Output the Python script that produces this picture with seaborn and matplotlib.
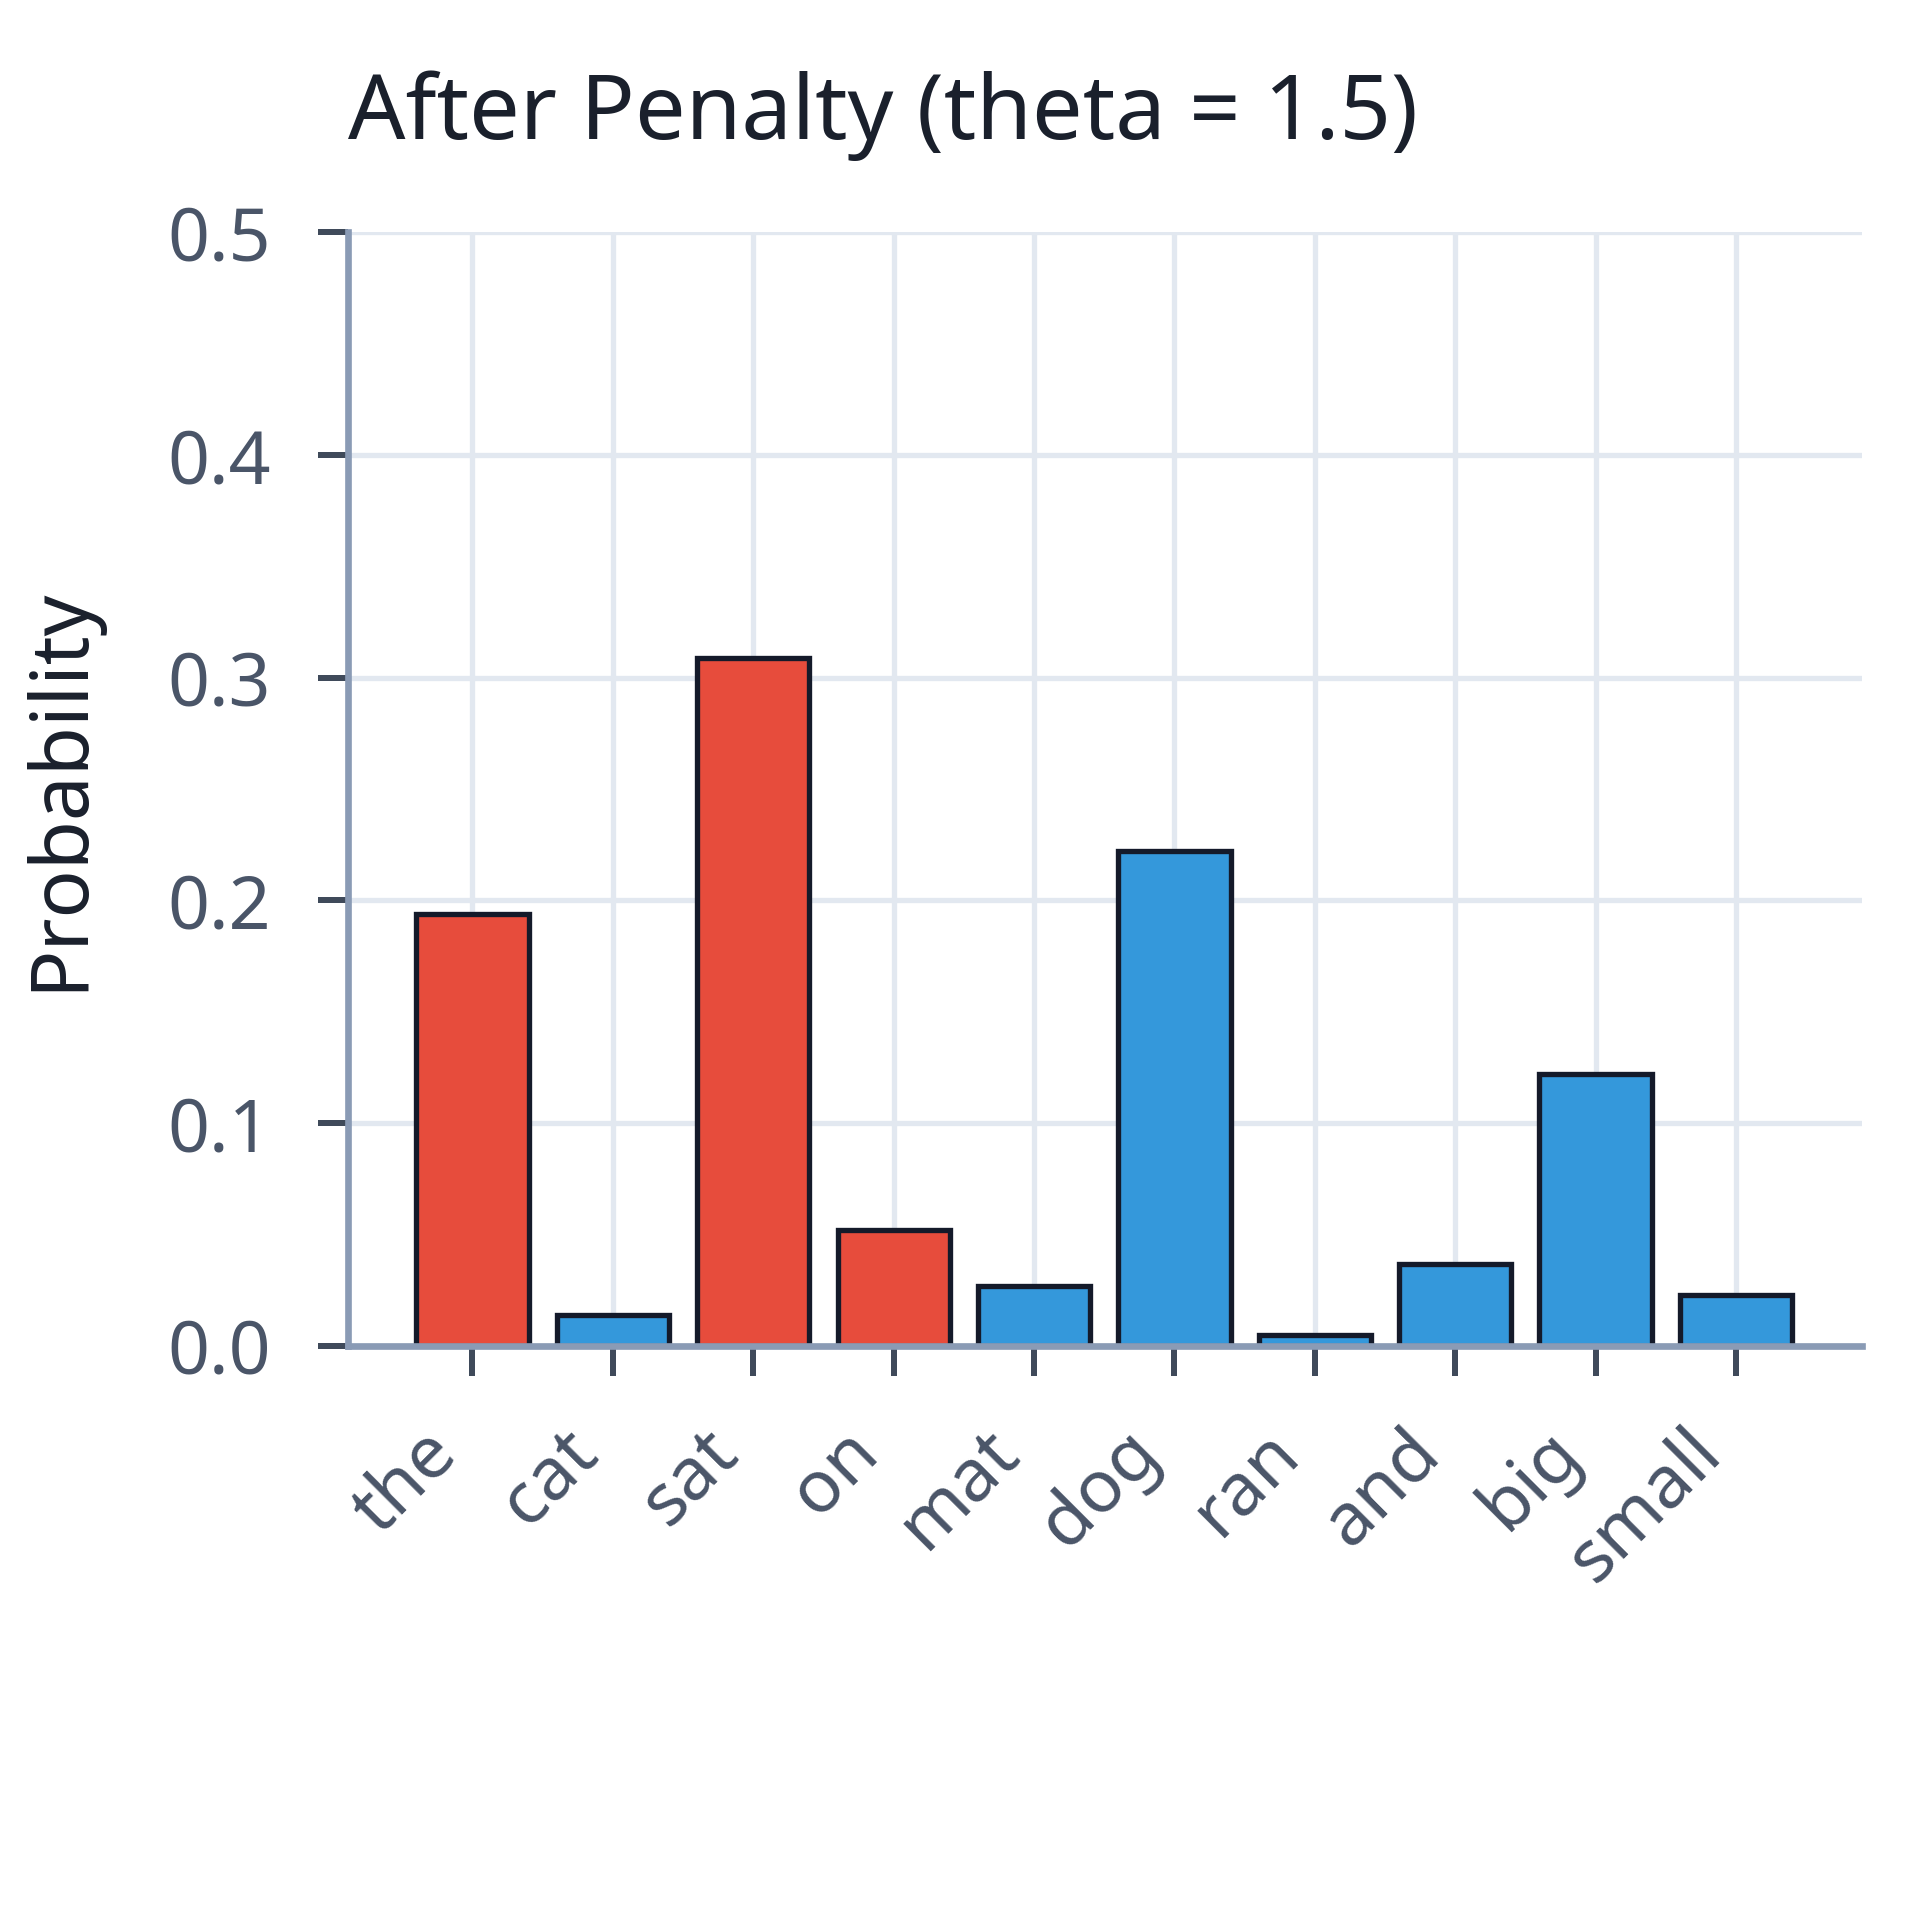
import matplotlib
matplotlib.use("Agg")
import matplotlib.pyplot as plt
import seaborn as sns
import pandas as pd

tokens = ["the", "cat", "sat", "on", "mat", "dog", "ran", "and", "big", "small"]
probs = [0.194, 0.014, 0.309, 0.052, 0.027, 0.222, 0.005, 0.037, 0.122, 0.023]
penalized = [True, False, True, True, False, False, False, False, False, False]

df = pd.DataFrame({"token": tokens, "prob": probs,
                   "group": ["pen" if p else "ok" for p in penalized]})

sns.set_theme(style="whitegrid")
plt.rcParams['font.family'] = ['Noto Sans', 'DejaVu Sans']

fig = plt.figure(figsize=(8, 8), dpi=240)
ax = fig.add_axes([0.181, 0.299, 0.789, 0.580])

sns.barplot(data=df, x="token", y="prob", hue="group", dodge=False,
            palette={"pen": "#e74c3c", "ok": "#3498db"}, width=0.8, saturation=1,
            edgecolor="#141a2a", linewidth=1.6, legend=False, ax=ax)

ax.set_xlim(-0.89, 9.9)
ax.set_ylim(0, 0.5)
ax.set_yticks([0.0, 0.1, 0.2, 0.3, 0.4, 0.5])
ax.set_yticklabels(["0.0", "0.1", "0.2", "0.3", "0.4", "0.5"])

ax.grid(True, axis="both", color="#e2e8f0", linewidth=1.6)
ax.set_axisbelow(True)
for s in ["top", "right"]:
    ax.spines[s].set_visible(False)
for s in ["left", "bottom"]:
    ax.spines[s].set_visible(True)
    ax.spines[s].set_color("#8a9bb5")
    ax.spines[s].set_linewidth(2.0)

ax.tick_params(axis="both", which="major", length=9, width=1.8, color="#3f4a5a",
               labelsize=22, labelcolor="#4a5568", bottom=True, left=True, direction="out")
ax.tick_params(axis="y", pad=14)
ax.tick_params(axis="x", pad=12)
for lbl in ax.get_xticklabels():
    lbl.set_rotation(45)
    lbl.set_ha("right")

ax.set_xlabel("")
ax.set_ylabel("Probability", fontsize=24, color="#1a202c", labelpad=20)
ax.set_title("After Penalty (theta = 1.5)", fontsize=27, color="#1a202c", loc="left", pad=28)

fig.savefig("out.png", dpi=240, facecolor="white")
